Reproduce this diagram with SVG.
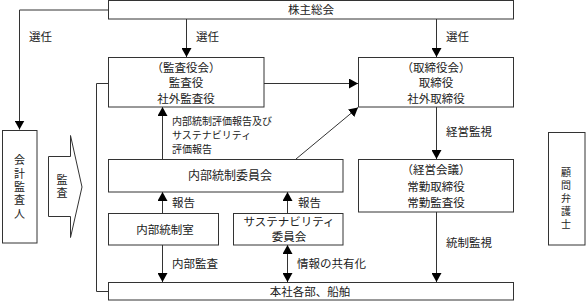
<svg xmlns="http://www.w3.org/2000/svg" width="587" height="301" viewBox="0 0 587 301">
<defs>
<marker id="ah" viewBox="0 0 9 10" markerWidth="9" markerHeight="10" refX="9" refY="5" orient="auto-start-reverse" markerUnits="userSpaceOnUse">
<path d="M0,0 L9,5 L0,10 z" fill="#000"/>
</marker>
<style>
.box{fill:#fff;stroke:#333;stroke-width:1}
.ln{fill:none;stroke:#333;stroke-width:1}
.ar{fill:none;stroke:#333;stroke-width:1;marker-end:url(#ah)}
.ar2{fill:none;stroke:#333;stroke-width:1;marker-end:url(#ah);marker-start:url(#ah)}
text{font-family:"Noto Sans CJK JP","Noto Sans CJK SC",sans-serif;font-size:11.5px;fill:#222}
.c{text-anchor:middle}
.s{font-size:10px}
.l{font-size:12px}
.vt{writing-mode:vertical-rl;text-anchor:middle;font-size:11px}
</style>
</defs>
<rect width="587" height="301" fill="#fff"/>
<g id="connectors">
<path class="ar" d="M108.5,10 H19.5 V129.5"/>
<path class="ar" d="M186.5,19 V57"/>
<path class="ar" d="M436.5,19 V57"/>
<path class="ar" d="M264,83.5 H358"/>
<path class="ln" d="M108,83.5 H96.5 V291.5 H108"/>
<path class="ar" d="M162.5,159 V107"/>
<path class="ar" d="M296,159 L358,107.5"/>
<path class="ar" d="M436.5,107 V159"/>
<path class="ar" d="M162.5,213 V192"/>
<path class="ar" d="M287.5,213 V192"/>
<path class="ar" d="M162.5,245 V282"/>
<path class="ar2" d="M287.5,245 V282"/>
<path class="ar" d="M436.5,212 V282"/>
</g>
<g id="labels">
<text x="29" y="41">選任</text>
<text x="196" y="41">選任</text>
<text x="446" y="41">選任</text>
<text x="446" y="136">経営監視</text>
<text x="446" y="247">統制監視</text>
<text class="s" x="172" y="125">内部統制評価報告及び</text>
<text class="s" x="172" y="139">サステナビリティ</text>
<text class="s" x="172" y="153">評価報告</text>
<text x="172" y="207">報告</text>
<text x="298" y="207">報告</text>
<text x="172" y="268">内部監査</text>
<text x="297" y="268">情報の共有化</text>
</g>
<g id="shareholders">
<rect class="box" x="108.5" y="0.5" width="405" height="18.5"/>
<text class="c" x="311" y="14">株主総会</text>
</g>
<g id="auditors">
<rect class="box" x="108.5" y="57.5" width="155.5" height="49.5"/>
<text class="c" x="186" y="71.5">（監査役会）</text>
<text class="c" x="186" y="87">監査役</text>
<text class="c" x="186" y="103">社外監査役</text>
</g>
<g id="board">
<rect class="box" x="358.5" y="57.5" width="155" height="49.5"/>
<text class="c" x="436" y="71.5">（取締役会）</text>
<text class="c" x="436" y="87">取締役</text>
<text class="c" x="436" y="103">社外取締役</text>
</g>
<g id="accounting-auditor">
<rect class="box" x="2.5" y="130.5" width="34.5" height="112.5"/>
<text class="vt" x="19.5" y="188" letter-spacing="2.3">会計監査人</text>
</g>
<g id="audit-arrow">
<polygon class="box" points="48.5,156.5 70.5,156.5 70.5,135.5 82,187 70.5,237.5 70.5,216.5 48.5,216.5"/>
<text class="vt" x="62" y="187.5" letter-spacing="2">監査</text>
</g>
<g id="ic-committee">
<rect class="box" x="108.5" y="159.5" width="234.5" height="32.5"/>
<text class="c l" x="230" y="180">内部統制委員会</text>
</g>
<g id="management">
<rect class="box" x="358.5" y="159.5" width="155" height="52.5"/>
<text class="c" x="436" y="174">（経営会議）</text>
<text class="c" x="436" y="191">常勤取締役</text>
<text class="c" x="436" y="207">常勤監査役</text>
</g>
<g id="ic-office">
<rect class="box" x="108.5" y="213.5" width="110" height="31.5"/>
<text class="c" x="165" y="234">内部統制室</text>
</g>
<g id="sustainability">
<rect class="box" x="233.5" y="213.5" width="109.5" height="31.5"/>
<text class="c" x="289" y="226">サステナビリティ</text>
<text class="c" x="289" y="241">委員会</text>
</g>
<g id="lawyer">
<rect class="box" x="548.5" y="132.5" width="36.5" height="112.5"/>
<text class="vt" x="566" y="200" letter-spacing="3" style="font-size:10px">顧問弁護士</text>
</g>
<g id="departments">
<rect class="box" x="108.5" y="282.5" width="405" height="17.5"/>
<text class="c" x="310" y="295.5">本社各部、船舶</text>
</g>
</svg>
